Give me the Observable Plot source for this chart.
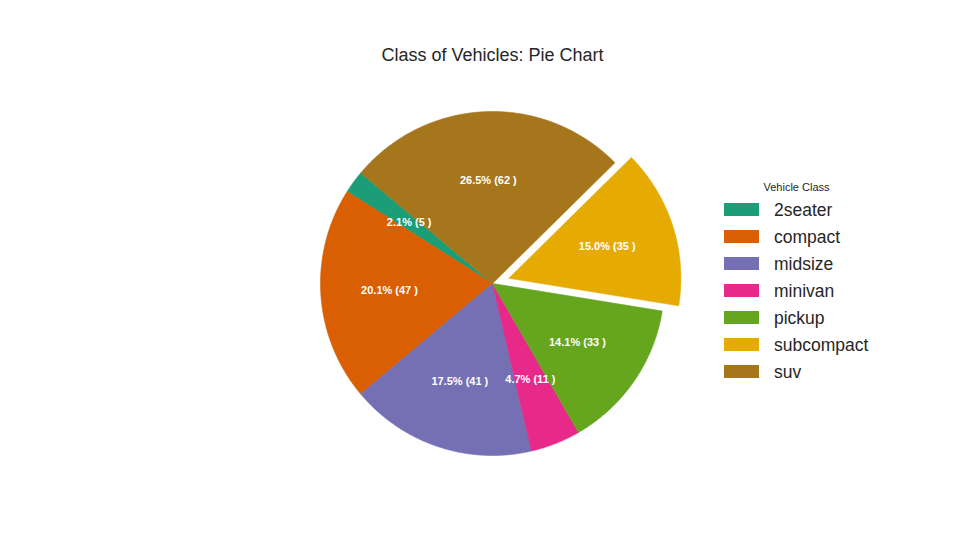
<!DOCTYPE html>
<html>
<head>
<meta charset="utf-8">
<script src="https://cdn.jsdelivr.net/npm/d3@7"></script>
<script src="https://cdn.jsdelivr.net/npm/@observablehq/plot@0.6"></script>
<style>
  body { margin: 0; background: #ffffff; font-family: "Liberation Sans", Arial, sans-serif; }
  #wrap { position: relative; width: 960px; height: 560px; overflow: hidden; }
  #chart { position: absolute; left: 0; top: 0; }
  #title { position: absolute; left: 0; width: 985px; top: 46px; text-align: center; font-size: 18px; line-height: 18px; color: #262626; }
  .lg { position: absolute; }
</style>
</head>
<body>
<div id="wrap">
  <div id="chart"></div>
  <div id="title">Class of Vehicles: Pie Chart</div>
  <div id="legend"></div>
</div>
<script>
// ---- data ----
const classes = ["2seater", "compact", "midsize", "minivan", "pickup", "subcompact", "suv"];
const counts = [5, 47, 41, 11, 33, 35, 62];
const colors = ["#1b9e77", "#d95f02", "#7570b3", "#e7298a", "#66a61e", "#e6ab02", "#a6761d"];
const explode = [0, 0, 0, 0, 0, 0.1, 0];
const legendTitle = "Vehicle Class";

// ---- geometry (unit radius, counter-clockwise from 140°) ----
const startAngle = 140;
const total = d3.sum(counts);
const polys = [];
const labels = [];
let a0 = startAngle;
classes.forEach((c, i) => {
  const sweep = counts[i] / total * 360;
  const a1 = a0 + sweep;
  const mid = (a0 + a1) / 2 * Math.PI / 180;
  const ox = explode[i] * Math.cos(mid), oy = explode[i] * Math.sin(mid);
  polys.push({cls: c, x: ox, y: oy});
  const n = Math.max(4, Math.ceil(sweep * 2));
  for (let k = 0; k <= n; k++) {
    const t = (a0 + sweep * k / n) * Math.PI / 180;
    polys.push({cls: c, x: ox + Math.cos(t), y: oy + Math.sin(t)});
  }
  polys.push({cls: c, x: ox, y: oy});
  const pct = counts[i] / total * 100;
  labels.push({
    cls: c,
    x: ox + 0.6 * Math.cos(mid),
    y: oy + 0.6 * Math.sin(mid),
    text: `${pct.toFixed(1)}% (${counts[i]} )`
  });
  a0 = a1;
});

// pixel layout: center (492,283), radius 172
const W = 960, H = 560, cx = 492, cy = 283, R = 172;

const chart = Plot.plot({
  width: W,
  height: H,
  margin: 0,
  x: {domain: [-cx / R, (W - cx) / R], range: [0, W], axis: null},
  y: {domain: [(cy - H) / R, cy / R], range: [H, 0], axis: null},
  color: {domain: classes, range: colors},
  style: {fontFamily: "Liberation Sans, Arial, sans-serif", background: "transparent"},
  marks: [
    Plot.line(polys, {x: "x", y: "y", z: "cls", fill: "cls", stroke: "cls", strokeWidth: 0.6, curve: "linear"}),
    Plot.text(labels, {x: "x", y: "y", text: "text", fill: "white", fontWeight: "bold", fontSize: 11})
  ]
});
document.getElementById("chart").appendChild(chart);

// ---- legend ----
const legend = document.getElementById("legend");
const t = document.createElement("div");
t.className = "lg";
t.textContent = legendTitle;
Object.assign(t.style, {left: "746px", width: "101px", textAlign: "center", top: "182px", fontSize: "11px", lineHeight: "11px", color: "#262626"});
legend.appendChild(t);
classes.forEach((c, i) => {
  const yc = 209.6 + i * 27;
  const sw = document.createElement("div");
  sw.className = "lg";
  Object.assign(sw.style, {left: "724px", top: (yc - 6.5) + "px", width: "35px", height: "13px", background: colors[i]});
  legend.appendChild(sw);
  const lb = document.createElement("div");
  lb.className = "lg";
  lb.textContent = c;
  Object.assign(lb.style, {left: "774px", top: (yc - 7.7) + "px", fontSize: "17.5px", lineHeight: "17.5px", color: "#262626", whiteSpace: "nowrap"});
  legend.appendChild(lb);
});
</script>
</body>
</html>
